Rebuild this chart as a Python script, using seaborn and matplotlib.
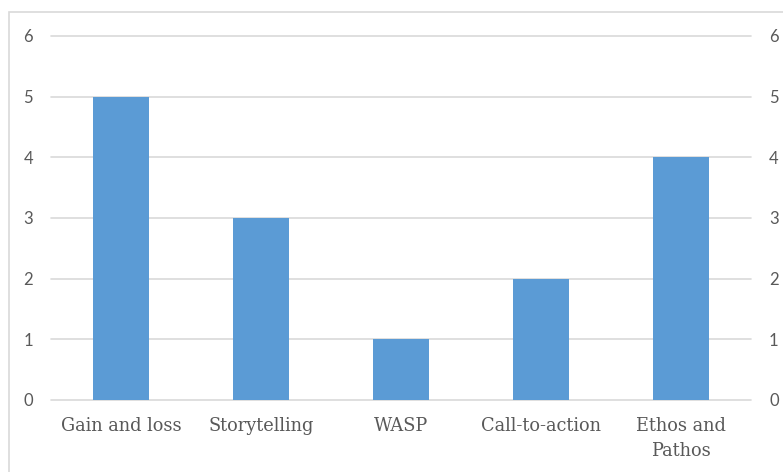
import pandas as pd
import numpy as np
import matplotlib.pyplot as plt
import matplotlib.patches as mpatches
import seaborn as sns

sns.set_style("white")

# datos
categorias = ['Gain and loss', 'Storytelling', 'WASP', 'Call-to-action', 'Ethos and\nPathos']
valores = [5, 3, 1, 2, 4]
ticks_y = [0, 1, 2, 3, 4, 5, 6]

df = pd.DataFrame({'categoria': categorias, 'valor': valores})

fig = plt.figure(figsize=(7.83, 4.72), dpi=100)
ax = fig.add_axes([51 / 783, 1 - 400 / 472, 700 / 783, 364 / 472])

sns.barplot(data=df, x='categoria', y='valor', color='#5B9BD5', width=0.4,
            saturation=1, linewidth=0, ax=ax, zorder=3)

ax.set_ylim(0, 6)
ax.set_xlim(-0.5, 4.5)
ax.set_yticks(ticks_y)
ax.yaxis.grid(True, color='#d9d9d9', linewidth=1.2, zorder=0)
for linea in ax.get_ygridlines():
    linea.set_clip_on(False)
ax.set_axisbelow(True)
for s in ax.spines.values():
    s.set_visible(False)
ax.set_xlabel('')
ax.set_ylabel('')

ax.tick_params(axis='y', length=0, pad=13, labelsize=12, labelcolor='#595959',
               labelright=True, right=False)
ax.tick_params(axis='x', length=0, pad=12, labelsize=12.8, labelcolor='#595959')
for t in ax.get_yticklabels():
    t.set_fontfamily('Lato')
for t in ax.get_xticklabels():
    t.set_fontfamily('DejaVu Serif')
    t.set_linespacing(1.55)

# marco del gráfico
marco = mpatches.Rectangle((9 / 783, -0.1), 1.2, 1 - 12 / 472 + 0.1,
                           transform=fig.transFigure, fill=False,
                           edgecolor='#d9d9d9', linewidth=1.2)
fig.patches.append(marco)

fig.savefig('out.png', dpi=100)
